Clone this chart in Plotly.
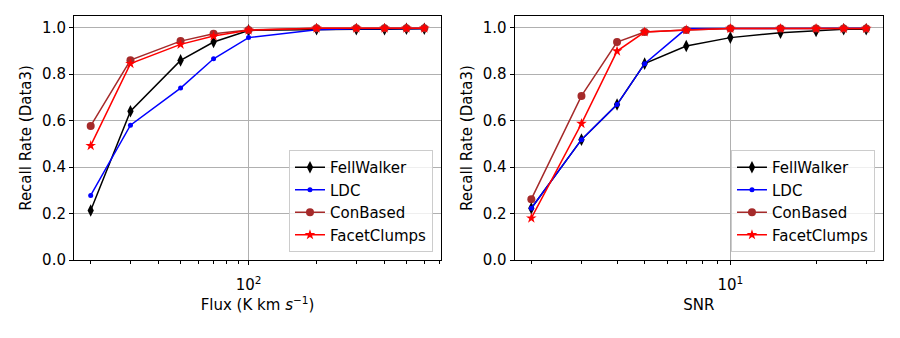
import plotly.graph_objects as go
from plotly.subplots import make_subplots

# left panel: flux
flux = [20, 30, 50, 70, 100, 200, 300, 400, 500, 600]
flux_fellwalker = [0.213, 0.640, 0.859, 0.938, 0.988, 0.993, 0.993, 0.993, 0.995, 0.995]
flux_ldc = [0.278, 0.580, 0.740, 0.866, 0.957, 0.991, 0.995, 0.995, 0.996, 0.996]
flux_conbased = [0.577, 0.860, 0.942, 0.974, 0.990, 0.997, 0.997, 0.997, 0.997, 0.997]
flux_facet = [0.492, 0.845, 0.928, 0.964, 0.989, 0.997, 0.997, 0.997, 0.997, 0.997]

# right panel: SNR
snr = [2, 3, 4, 5, 7, 10, 15, 20, 25, 30]
snr_fellwalker = [0.223, 0.518, 0.669, 0.845, 0.921, 0.957, 0.978, 0.986, 0.993, 0.993]
snr_ldc = [0.223, 0.518, 0.669, 0.845, 0.996, 0.997, 0.997, 0.997, 0.997, 0.997]
snr_conbased = [0.262, 0.706, 0.938, 0.981, 0.990, 0.996, 0.996, 0.996, 0.996, 0.996]
snr_facet = [0.180, 0.587, 0.899, 0.981, 0.990, 0.996, 0.996, 0.996, 0.996, 0.996]

names = ["FellWalker", "LDC", "ConBased", "FacetClumps"]
colors = ["black", "blue", "#a52a2a", "red"]
symbols = ["diamond-tall", "circle", "circle", "star"]
msizes = [9, 5, 8, 8]

FONT = "DejaVu Sans"
FS = 15

fig = make_subplots(rows=1, cols=2)

left = [flux_fellwalker, flux_ldc, flux_conbased, flux_facet]
right = [snr_fellwalker, snr_ldc, snr_conbased, snr_facet]

for i in range(4):
    fig.add_trace(go.Scatter(x=flux, y=left[i], name=names[i], mode="lines+markers",
                             line=dict(color=colors[i], width=1.5),
                             marker=dict(symbol=symbols[i], size=msizes[i], color=colors[i]),
                             legend="legend"), row=1, col=1)
for i in range(4):
    fig.add_trace(go.Scatter(x=snr, y=right[i], name=names[i], mode="lines+markers",
                             line=dict(color=colors[i], width=1.5),
                             marker=dict(symbol=symbols[i], size=msizes[i], color=colors[i]),
                             legend="legend2"), row=1, col=2)

axis_common = dict(showline=True, linecolor="black", linewidth=1, mirror=True,
                   ticks="outside", ticklen=4, tickcolor="black",
                   showgrid=True, gridcolor="#b0b0b0", gridwidth=1,
                   zeroline=False, automargin=False,
                   tickfont=dict(family=FONT, size=FS, color="black"))

fig.update_xaxes(type="log", ticklabelstandoff=7, **axis_common)
fig.update_yaxes(range=[0, 1.05], tickvals=[0, 0.2, 0.4, 0.6, 0.8, 1.0],
                 ticktext=["0.0", "0.2", "0.4", "0.6", "0.8", "1.0"], **axis_common)

fig.update_xaxes(domain=[0.0733, 0.4811], range=[1.227, 2.852],
                 tickvals=[100], ticktext=["10<sup>2</sup>"],
                 minor=dict(ticks="outside", ticklen=2.5, tickcolor="black",
                            tickvals=[20, 30, 40, 50, 60, 70, 80, 90, 200, 300, 400, 500, 600, 700],
                            showgrid=False),
                 title=dict(text="Flux (K km <i>s</i><sup>\u22121</sup>)",
                            font=dict(family=FONT, size=FS, color="black"), standoff=6),
                 row=1, col=1)
fig.update_xaxes(domain=[0.5628, 0.9722], range=[0.242, 1.536],
                 tickvals=[10], ticktext=["10<sup>1</sup>"],
                 minor=dict(ticks="outside", ticklen=2.5, tickcolor="black",
                            tickvals=[2, 3, 4, 5, 6, 7, 8, 9, 20, 30],
                            showgrid=False),
                 title=dict(text="SNR", font=dict(family=FONT, size=FS, color="black"), standoff=6),
                 row=1, col=2)
for c in (1, 2):
    fig.update_yaxes(domain=[0.2544, 0.9763],
                     title=dict(text="Recall Rate (Data3)",
                                font=dict(family=FONT, size=FS, color="black"), standoff=6),
                     row=1, col=c)

legend_common = dict(bgcolor="rgba(255,255,255,0.8)", bordercolor="#cccccc", borderwidth=1,
                     font=dict(family=FONT, size=FS, color="black"),
                     xanchor="right", yanchor="bottom", y=0.2781)
fig.update_layout(
    width=900, height=338,
    margin=dict(l=0, r=0, t=0, b=0),
    paper_bgcolor="white", plot_bgcolor="white",
    font=dict(family=FONT, size=FS, color="black"),
    legend=dict(x=0.4722, **legend_common),
    legend2=dict(x=0.9633, **legend_common),
)

fig.write_html("out.html")
